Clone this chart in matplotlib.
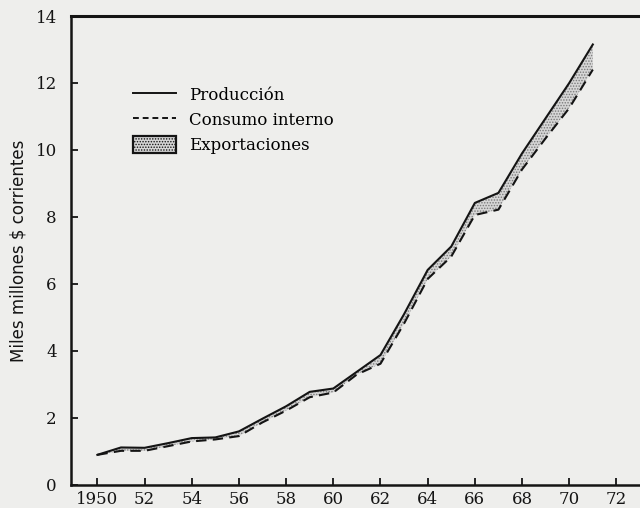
import matplotlib
matplotlib.use("Agg")
import matplotlib.pyplot as plt
from matplotlib.lines import Line2D
from matplotlib.patches import Patch

# Producción y consumo interno, miles de millones de $ corrientes
years = [1950, 1951, 1952, 1953, 1954, 1955, 1956, 1957, 1958, 1959, 1960,
         1961, 1962, 1963, 1964, 1965, 1966, 1967, 1968, 1969, 1970, 1971]
produccion = [0.90, 1.12, 1.11, 1.25, 1.40, 1.42, 1.60, 1.98, 2.35, 2.78, 2.88,
              3.38, 3.88, 5.10, 6.42, 7.12, 8.42, 8.72, 9.90, 10.95, 12.00, 13.15]
consumo = [0.90, 1.02, 1.02, 1.16, 1.30, 1.36, 1.46, 1.87, 2.22, 2.62, 2.76,
           3.30, 3.62, 4.82, 6.15, 6.82, 8.06, 8.22, 9.42, 10.35, 11.25, 12.40]

xticks = list(range(1950, 1973, 2))
xticklabels = ["1950"] + [str(y % 100) for y in xticks[1:]]
yticks = list(range(0, 15, 2))

paper = "#eeeeec"
ink = "#141414"
plt.rcParams["hatch.linewidth"] = 0.7

fig = plt.figure(figsize=(6.4, 5.08), dpi=100, facecolor=paper)
ax = fig.add_axes([0.1105, 0.0453, 0.8895, 0.9232], facecolor=paper)

ax.fill_between(years, consumo, produccion, facecolor="#d6d6d6",
                edgecolor="#7a7a7a", hatch="......", linewidth=0)
ax.plot(years, produccion, color=ink, lw=1.5)
ax.plot(years, consumo, color=ink, lw=1.5, ls=(0, (5, 3)))

ax.set_xlim(1948.87, 1973.0)
ax.set_ylim(0, 14)
ax.set_xticks(xticks)
ax.set_xticklabels(xticklabels)
ax.set_yticks(yticks)

serif = "DejaVu Serif"
ax.tick_params(direction="in", length=5, width=1.3, colors=ink, labelsize=12)
ax.tick_params(axis="x", pad=4)
ax.tick_params(axis="y", pad=10)
for lab in ax.get_xticklabels() + ax.get_yticklabels():
    lab.set_fontfamily(serif)

for side in ["left", "bottom"]:
    ax.spines[side].set_linewidth(1.8)
    ax.spines[side].set_color(ink)
ax.spines["top"].set_linewidth(2.2)
ax.spines["top"].set_color(ink)
ax.spines["right"].set_visible(False)

ax.set_ylabel("Miles millones $ corrientes", fontfamily="DejaVu Sans",
              fontsize=12, color=ink, labelpad=6)

handles = [
    Line2D([], [], color=ink, lw=1.4),
    Line2D([], [], color=ink, lw=1.4, ls=(0, (3, 2))),
    Patch(facecolor="#d6d6d6", edgecolor=ink, hatch="......", linewidth=1.6),
]
ax.legend(handles, ["Producción", "Consumo interno", "Exportaciones"],
          loc="upper left", bbox_to_anchor=(0.109, 0.850), borderaxespad=0,
          frameon=False, handlelength=2.6, handleheight=1.15,
          handletextpad=0.8, labelspacing=0.42, borderpad=0,
          prop={"family": serif, "size": 12})

fig.savefig("out.png", dpi=100, facecolor=paper)
